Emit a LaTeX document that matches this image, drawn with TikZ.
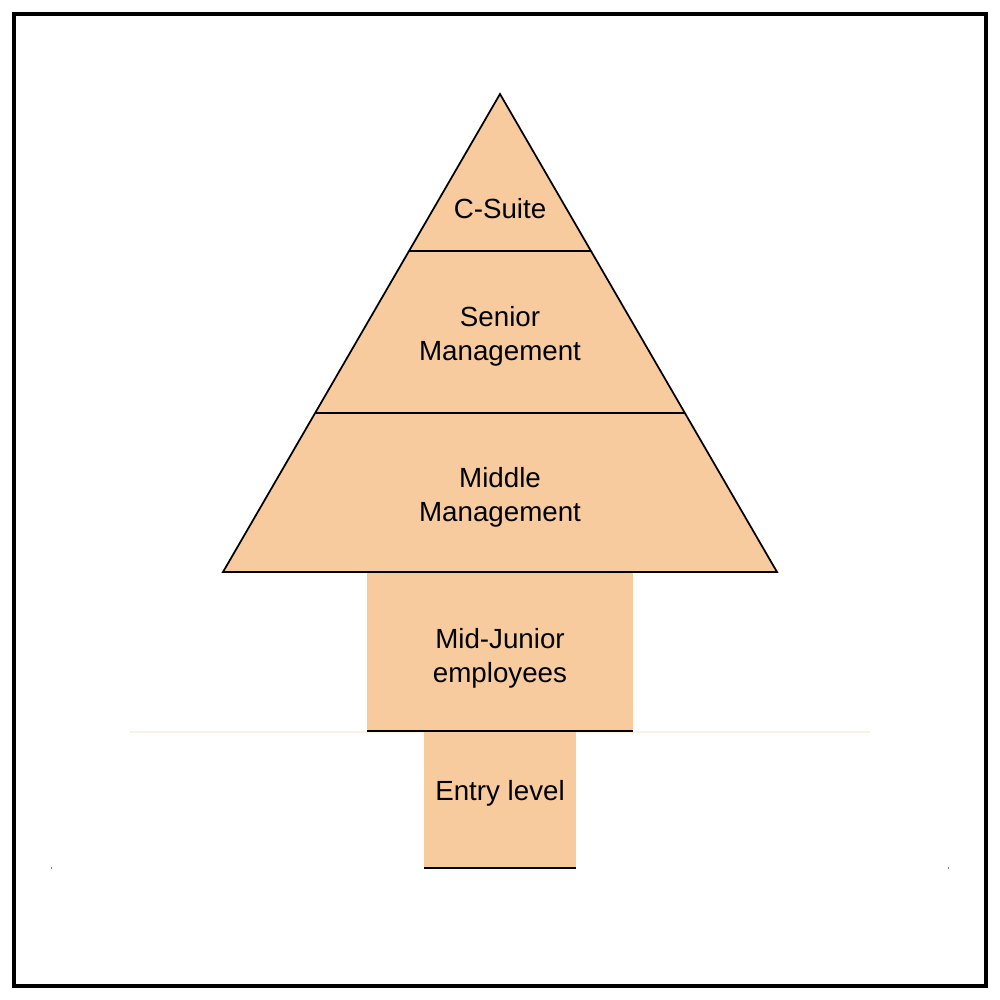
\documentclass[tikz,border=0pt]{standalone}
\usepackage{fontspec}
\setmainfont{Liberation Sans}
\definecolor{tierfill}{HTML}{F8CB9E}
\definecolor{faintline}{HTML}{FDF1E4}
\begin{document}
\begin{tikzpicture}[x=0.75pt,y=-0.75pt,
  tierline/.style={draw=black,line width=1.3pt,line join=miter},
  label/.style={align=center,font=\fontsize{20.8pt}{25.5pt}\selectfont,inner sep=0pt}]
\useasboundingbox (0,0) rectangle (1000,1000);
\draw[line width=2.3pt] (14,14) rectangle (986,986);
% faint line and tiny marks
\draw[faintline,line width=1pt] (130,732) -- (870,732);
\fill[gray] (50.5,867) rectangle (51.5,869);
\fill[gray] (947.5,867) rectangle (948.5,869);
% coordinates
\coordinate (apex) at (500,94);
\coordinate (bl) at (223,572);
\coordinate (br) at (777,572);
\coordinate (c1l) at (409,251);
\coordinate (c1r) at (591,251);
\coordinate (c2l) at (316,413);
\coordinate (c2r) at (685,413);
% triangle
\fill[tierfill] (apex) -- (bl) -- (br) -- cycle;
% mid-junior and entry level
\fill[tierfill] (367,573) rectangle (633,731);
\fill[tierfill] (424,732) rectangle (576,868);
\coordinate (mjl) at (367,731);
\coordinate (mjr) at (633,731);
\coordinate (el) at (424,868);
\coordinate (er) at (576,868);
\draw[tierline] (apex) -- (bl) -- (br) -- cycle;
\draw[tierline] (c1l) -- (c1r);
\draw[tierline] (c2l) -- (c2r);
\draw[tierline] (mjl) -- (mjr);
\draw[tierline] (el) -- (er);
% labels
\node[label] (csuite) at (500,209) {C-Suite};
\node[label] (senior) at (500,336) {Senior\\Management};
\node[label] (middle) at (500,497) {Middle\\Management};
\node[label] (midjr) at (500,658) {Mid-Junior\\employees};
\node[label] (entry) at (500,793) {Entry level};
\end{tikzpicture}
\end{document}
